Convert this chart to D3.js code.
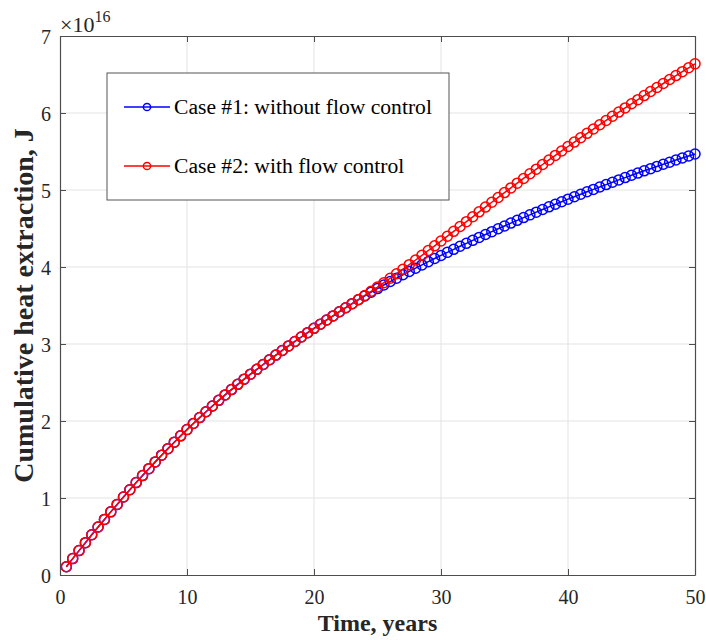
<!DOCTYPE html>
<head>
    <style>
        body { margin: 0; background: #fff; }
        text { font-family: "Liberation Serif", "Times New Roman", serif; }
    </style>
</head>
<body>
    <script src="https://d3js.org/d3.v7.min.js"></script>
    <script>
        const width = 706;
        const height = 640;
        const margin = {top: 36, right: 11, bottom: 65, left: 60};

        // time, years
        const years = [0.5, 1, 1.5, 2, 2.5, 3, 3.5, 4, 4.5, 5, 5.5, 6, 6.5, 7, 7.5, 8, 8.5, 9, 9.5, 10,
            10.5, 11, 11.5, 12, 12.5, 13, 13.5, 14, 14.5, 15, 15.5, 16, 16.5, 17, 17.5, 18, 18.5, 19, 19.5, 20,
            20.5, 21, 21.5, 22, 22.5, 23, 23.5, 24, 24.5, 25, 25.5, 26, 26.5, 27, 27.5, 28, 28.5, 29, 29.5, 30,
            30.5, 31, 31.5, 32, 32.5, 33, 33.5, 34, 34.5, 35, 35.5, 36, 36.5, 37, 37.5, 38, 38.5, 39, 39.5, 40,
            40.5, 41, 41.5, 42, 42.5, 43, 43.5, 44, 44.5, 45, 45.5, 46, 46.5, 47, 47.5, 48, 48.5, 49, 49.5, 50];

        // cumulative heat, x1e16 J
        const case1 = [0.107, 0.213, 0.317, 0.42, 0.522, 0.623, 0.722, 0.82, 0.917, 1.013,
            1.107, 1.2, 1.291, 1.381, 1.469, 1.556, 1.641, 1.725, 1.807, 1.888,
            1.967, 2.044, 2.12, 2.195, 2.268, 2.339, 2.408, 2.476, 2.543, 2.608,
            2.671, 2.734, 2.795, 2.856, 2.916, 2.975, 3.033, 3.091, 3.147, 3.203,
            3.257, 3.312, 3.365, 3.419, 3.471, 3.524, 3.575, 3.625, 3.673, 3.72,
            3.766, 3.811, 3.855, 3.899, 3.943, 3.985, 4.027, 4.069, 4.11, 4.15,
            4.19, 4.229, 4.269, 4.307, 4.346, 4.384, 4.422, 4.459, 4.497, 4.533,
            4.57, 4.606, 4.642, 4.677, 4.712, 4.747, 4.781, 4.815, 4.848, 4.881,
            4.913, 4.945, 4.977, 5.008, 5.039, 5.07, 5.1, 5.131, 5.161, 5.191,
            5.22, 5.249, 5.277, 5.306, 5.334, 5.361, 5.389, 5.416, 5.442, 5.467];
        const case2 = [0.107, 0.213, 0.317, 0.42, 0.522, 0.623, 0.722, 0.82, 0.917, 1.013,
            1.107, 1.2, 1.291, 1.381, 1.469, 1.556, 1.641, 1.725, 1.807, 1.888,
            1.967, 2.044, 2.12, 2.195, 2.268, 2.339, 2.408, 2.476, 2.543, 2.608,
            2.671, 2.734, 2.795, 2.856, 2.916, 2.975, 3.033, 3.091, 3.147, 3.203,
            3.257, 3.312, 3.365, 3.419, 3.471, 3.524, 3.577, 3.63, 3.685, 3.74,
            3.796, 3.854, 3.912, 3.971, 4.03, 4.091, 4.152, 4.214, 4.275, 4.338,
            4.4, 4.463, 4.526, 4.589, 4.652, 4.716, 4.778, 4.841, 4.903, 4.966,
            5.027, 5.089, 5.15, 5.211, 5.271, 5.331, 5.39, 5.449, 5.507, 5.565,
            5.622, 5.679, 5.736, 5.792, 5.848, 5.903, 5.958, 6.012, 6.066, 6.12,
            6.173, 6.226, 6.279, 6.331, 6.383, 6.435, 6.486, 6.537, 6.587, 6.638];

        const seriesNames = ["Case #1: without flow control", "Case #2: with flow control"];
        const seriesColors = ["#0000ff", "#ff0000"];
        const xTicks = [0, 10, 20, 30, 40, 50];
        const yTicks = [0, 1, 2, 3, 4, 5, 6, 7];

        const svg = d3.select("body").append("svg").attr("width", width).attr("height", height);
        const iw = width - margin.left - margin.right;
        const ih = height - margin.top - margin.bottom;
        const g = svg.append("g").attr("transform", `translate(${margin.left},${margin.top})`);

        const x = d3.scaleLinear().domain([0, 50]).range([0, iw]);
        const y = d3.scaleLinear().domain([0, 7]).range([ih, 0]);

        // grid
        g.append("g").selectAll("line").data(xTicks.slice(1, -1)).enter().append("line")
            .attr("x1", d => x(d)).attr("x2", d => x(d)).attr("y1", 0).attr("y2", ih)
            .attr("stroke", "#e3e3e3").attr("stroke-width", 1);
        g.append("g").selectAll("line").data(yTicks.slice(1, -1)).enter().append("line")
            .attr("y1", d => y(d)).attr("y2", d => y(d)).attr("x1", 0).attr("x2", iw)
            .attr("stroke", "#e3e3e3").attr("stroke-width", 1);

        // axes, ticks inward on all sides
        const fmt = d3.format("d");
        function styleAxis(sel) {
            sel.attr("font-family", null);
            sel.select(".domain").attr("stroke", "#4d4d4d").attr("stroke-width", 1.2);
            sel.selectAll(".tick line").attr("stroke", "#4d4d4d");
            sel.selectAll(".tick text").attr("fill", "#262626").attr("font-size", 20)
                .style("font-family", "'Liberation Serif', serif");
        }
        g.append("g").attr("transform", `translate(0,${ih})`)
            .call(d3.axisBottom(x).tickValues(xTicks).tickFormat(fmt).tickSizeInner(-6).tickSizeOuter(0).tickPadding(15))
            .call(styleAxis);
        g.append("g")
            .call(d3.axisLeft(y).tickValues(yTicks).tickFormat(fmt).tickSizeInner(-6).tickSizeOuter(0).tickPadding(9))
            .call(styleAxis)
            .selectAll(".tick text").attr("dy", "0.36em");
        g.append("g")
            .call(d3.axisTop(x).tickValues(xTicks).tickSizeInner(-6).tickSizeOuter(0).tickFormat(""))
            .call(styleAxis);
        g.append("g").attr("transform", `translate(${iw},0)`)
            .call(d3.axisRight(y).tickValues(yTicks).tickSizeInner(-6).tickSizeOuter(0).tickFormat(""))
            .call(styleAxis);

        // exponent label
        const ex = g.append("text").attr("x", 0).attr("y", -4).attr("fill", "#262626").attr("font-size", 22);
        ex.append("tspan").text("\u00d710");
        ex.append("tspan").attr("dy", -10).attr("font-size", 16).text("16");

        // series
        const series = [case1, case2];
        const line = d3.line().x((d, i) => x(years[i])).y(d => y(d));
        series.forEach((vals, k) => {
            const sg = g.append("g");
            sg.append("path").datum(vals).attr("d", line)
                .attr("fill", "none").attr("stroke", seriesColors[k]).attr("stroke-width", 1.5);
            sg.selectAll("circle").data(vals).enter().append("circle")
                .attr("cx", (d, i) => x(years[i])).attr("cy", d => y(d)).attr("r", 5)
                .attr("fill", "none").attr("stroke", seriesColors[k]).attr("stroke-width", 1.5);
        });

        // legend
        const lg = g.append("g").attr("transform", `translate(${107 - margin.left},${73 - margin.top})`);
        lg.append("rect").attr("width", 342).attr("height", 127)
            .attr("fill", "#fff").attr("stroke", "#555").attr("stroke-width", 1);
        seriesNames.forEach((name, k) => {
            const row = lg.append("g").attr("transform", `translate(0,${34 + k * 59})`);
            row.append("line").attr("x1", 17).attr("x2", 63).attr("y1", 0).attr("y2", 0)
                .attr("stroke", seriesColors[k]).attr("stroke-width", 1.5);
            row.append("circle").attr("cx", 40).attr("cy", 0).attr("r", 3.6)
                .attr("fill", "none").attr("stroke", seriesColors[k]).attr("stroke-width", 1.5);
            row.append("text").attr("x", 67).attr("y", 0).attr("dy", "0.34em")
                .attr("font-size", 21.6).attr("fill", "#000").text(name);
        });

        // axis titles
        svg.append("text").attr("x", margin.left + iw / 2).attr("y", 631)
            .attr("text-anchor", "middle").attr("font-size", 24).attr("font-weight", "bold")
            .attr("fill", "#262626").text("Time, years");
        svg.append("text").attr("transform", `translate(33,${margin.top + ih / 2}) rotate(-90)`)
            .attr("text-anchor", "middle").attr("font-size", 28).attr("font-weight", "bold")
            .attr("fill", "#262626").text("Cumulative heat extraction, J");
    </script>
</body>
</html>
